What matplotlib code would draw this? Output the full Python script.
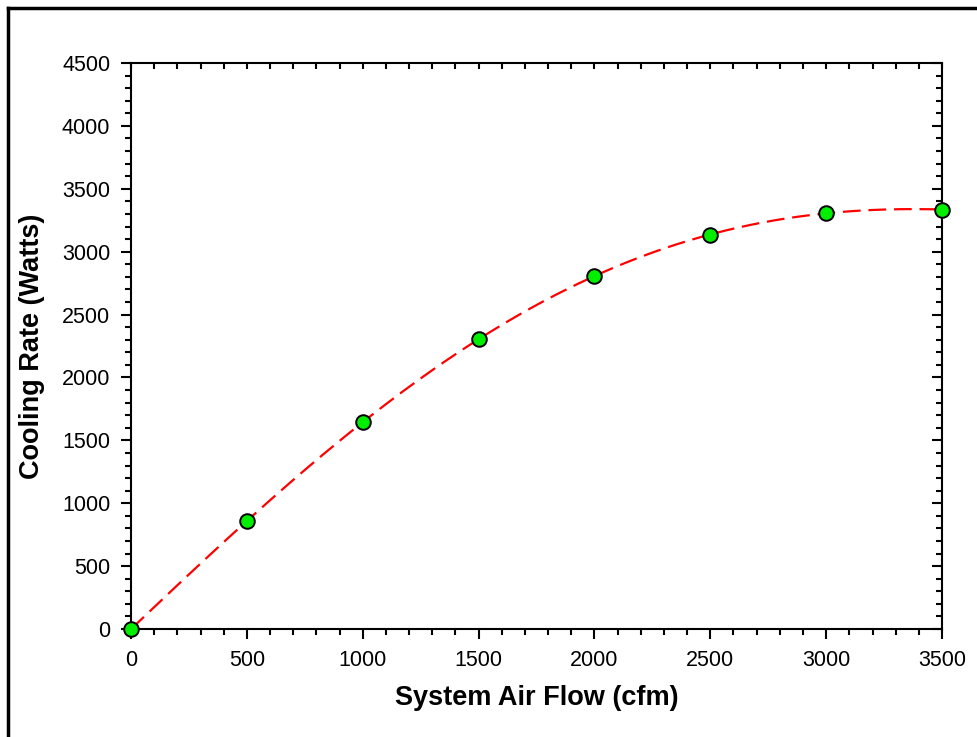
import numpy as np
import matplotlib
matplotlib.use("Agg")
import matplotlib.pyplot as plt
from matplotlib.lines import Line2D
from matplotlib.ticker import MultipleLocator, NullFormatter

plt.rcParams['font.family'] = ['Liberation Sans', 'DejaVu Sans']

# data
air_flow = [0, 500, 1000, 1500, 2000, 2500, 3000, 3500]
cooling_rate = [0, 858, 1645, 2305, 2806, 3135, 3307, 3335]

# regression curve through the measured points
coef = np.polyfit(air_flow, cooling_rate, 4)
x_fit = np.linspace(0, 3500, 200)
y_fit = np.polyval(coef, x_fit)

fig = plt.figure(figsize=(9.77, 7.37), dpi=100)
ax = fig.add_axes([0.1341, 0.1465, 0.9642 - 0.1341, 0.9145 - 0.1465])

ax.plot(x_fit, y_fit, color='red', lw=1.6, dashes=(8, 3.5), zorder=2)
ax.plot(air_flow, cooling_rate, 'o', color='#00ee00', markeredgecolor='black',
        markeredgewidth=1.4, markersize=10.5, zorder=3, clip_on=False)

ax.set_xlim(0, 3500)
ax.set_ylim(0, 4500)
ax.xaxis.set_major_locator(MultipleLocator(500))
ax.xaxis.set_minor_locator(MultipleLocator(100))
ax.yaxis.set_major_locator(MultipleLocator(500))
ax.yaxis.set_minor_locator(MultipleLocator(100))

for s in ax.spines.values():
    s.set_linewidth(1.5)

ax.tick_params(which='both', direction='out', width=1.5, labelsize=15.5,
               top=False, right=False)
ax.tick_params(which='major', length=7, pad=8)
ax.tick_params(which='minor', length=4)

# inner ticks on top (minor only) and right
top = ax.secondary_xaxis('top')
top.set_xticks([])
top.xaxis.set_minor_locator(MultipleLocator(100))
top.xaxis.set_minor_formatter(NullFormatter())
top.tick_params(which='minor', direction='in', length=4, width=1.5)
top.spines['top'].set_visible(False)
right = ax.secondary_yaxis('right')
right.yaxis.set_major_locator(MultipleLocator(500))
right.yaxis.set_minor_locator(MultipleLocator(100))
right.yaxis.set_major_formatter(NullFormatter())
right.tick_params(which='major', direction='in', length=7, width=1.5)
right.tick_params(which='minor', direction='in', length=4, width=1.5)
right.spines['right'].set_visible(False)

ax.set_xlabel('System Air Flow (cfm)', fontsize=19.5, fontweight='bold', labelpad=10)
ax.set_ylabel('Cooling Rate (Watts)', fontsize=19.5, fontweight='bold', labelpad=12)

# outer frame (left and top edges visible)
fig.add_artist(Line2D([0.0087, 0.0087], [0, 0.9885], color='black', lw=2.5,
                      transform=fig.transFigure))
fig.add_artist(Line2D([0.0087, 1], [0.9885, 0.9885], color='black', lw=2.5,
                      transform=fig.transFigure))

fig.savefig('out.png', dpi=100)
